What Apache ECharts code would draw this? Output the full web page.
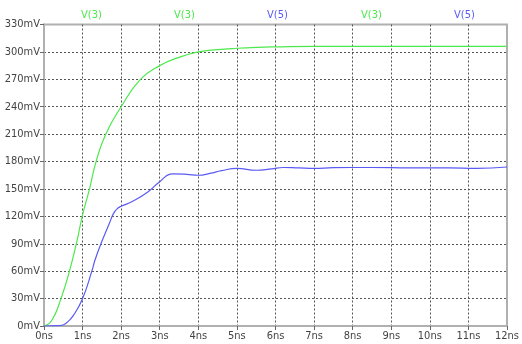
<!DOCTYPE html>
<html><head><meta charset="utf-8">
<script src="https://cdn.jsdelivr.net/npm/echarts@6/dist/echarts.min.js"></script>
<style>html,body{margin:0;padding:0;background:#fff}#c{width:522px;height:344px}</style>
</head><body><div id="c"></div>
<script>
const v3Time = [0,0.2,0.44,0.66,0.86,0.99,1.18,1.35,1.6,2.0,2.5,3.0,3.5,4.0,4.5,5,5.5,6,7,8,9,10,11,12];
const v3Vals = [0,6,30,60,94,120,150,180,210,240,270,285,294,300,302.5,304,305,305.5,306,306,306,306,306,306];
const v5Time = [0,0.4,0.6,0.8,1.0,1.24,1.32,1.48,1.69,1.8,1.9,2.0,2.3,2.7,3.0,3.33,3.7,4.0,4.3,4.6,5.0,5.5,5.9,6.2,6.6,7,7.5,8.5,9.5,10.5,11.2,12];
const v5Vals = [0,0.5,4,14,30,60,72,90.5,112,123,128.5,131,136.5,147,158,166.5,166,165,167,170,172.5,170.5,172,173.5,173,172.5,173.3,173.5,173,173,172.5,174];
const topLabels = ['V(3)','V(3)','V(5)','V(3)','V(5)'];
const topLabelX = [90,183,276,370,463];
const green = '#4de84d', blue = '#5a5af5';
const font = '"Liberation Sans Narrow","DejaVu Sans Condensed",sans-serif';
const chart = echarts.init(document.getElementById('c'));
const zip = (t,v) => t.map((x,i)=>[x,v[i]]);
chart.setOption({
  animation:false,
  grid:{left:44,right:9,top:24.5,bottom:18,show:true,borderColor:'#b0b0b0',borderWidth:2},
  xAxis:{type:'value',min:0,max:12,interval:1,
    axisLine:{lineStyle:{color:'#b0b0b0',width:2}},
    axisTick:{length:4,lineStyle:{color:'#666'}},
    axisLabel:{formatter:'{value}ns',color:'#444',fontFamily:font,fontSize:11,margin:5},
    splitLine:{show:true,showMinLine:false,showMaxLine:false,lineStyle:{color:'#555',type:[2,2],width:1}}},
  yAxis:{type:'value',min:0,max:330,interval:30,
    axisLine:{show:true,lineStyle:{color:'#b0b0b0',width:2}},
    axisTick:{show:true,length:4,lineStyle:{color:'#666'}},
    axisLabel:{formatter:'{value}mV',color:'#444',fontFamily:font,fontSize:11,margin:4},
    splitLine:{show:true,showMinLine:false,showMaxLine:false,lineStyle:{color:'#555',type:[2,2],width:1}}},
  graphic: topLabels.map((s,i)=>({type:'text',left:topLabelX[i]-9,top:10,
    style:{text:s,fill:s==='V(3)'?green:blue,font:'11px '+font}})),
  series:[
    {type:'line',data:zip(v3Time,v3Vals),smooth:0.5,symbol:'none',lineStyle:{color:green,width:1.2}},
    {type:'line',data:zip(v5Time,v5Vals),smooth:0.5,symbol:'none',lineStyle:{color:blue,width:1.2}}
  ]
});
</script></body></html>
